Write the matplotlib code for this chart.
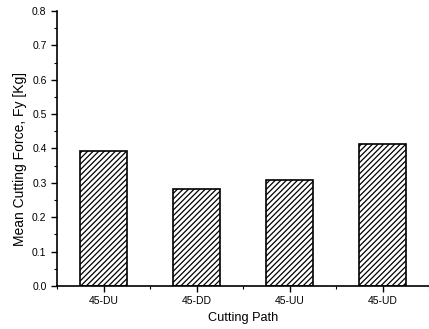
import matplotlib
matplotlib.use("Agg")
import matplotlib.pyplot as plt
from matplotlib.ticker import MultipleLocator

# cutting paths and mean cutting force Fy [Kg]
paths = ["45-DU", "45-DD", "45-UU", "45-UD"]
force = [0.392, 0.281, 0.308, 0.412]

plt.rcParams["font.family"] = ["Liberation Sans", "DejaVu Sans"]
plt.rcParams["hatch.linewidth"] = 0.9

fig = plt.figure(figsize=(4.29, 3.29), dpi=100)
ax = fig.add_axes([0.1329, 0.1307, 0.8671, 0.836])

x = list(range(len(paths)))
ax.bar(x, force, width=0.5, color="white", edgecolor="black",
       linewidth=1.2, hatch="//////")

ax.set_xlim(-0.5, 3.5)
ax.set_ylim(0, 0.8)
ax.set_xticks(x)
ax.set_xticklabels(paths, fontsize=7.5)
ax.xaxis.set_minor_locator(MultipleLocator(0.5))
ax.yaxis.set_major_locator(MultipleLocator(0.1))
ax.yaxis.set_minor_locator(MultipleLocator(0.05))
ax.tick_params(axis="y", labelsize=7.5)
ax.tick_params(which="major", direction="out", length=4, width=1)
ax.tick_params(which="minor", direction="out", length=2, width=0.8)
ax.spines["top"].set_visible(False)
ax.spines["right"].set_visible(False)
ax.spines["left"].set_linewidth(1.2)
ax.spines["bottom"].set_linewidth(1.2)

ax.set_xlabel("Cutting Path", fontsize=9.2)
ax.set_ylabel("Mean Cutting Force, Fy [Kg]", fontsize=10)
ax.yaxis.set_label_coords(-0.082, 0.46)

fig.savefig("out.png", dpi=100)
